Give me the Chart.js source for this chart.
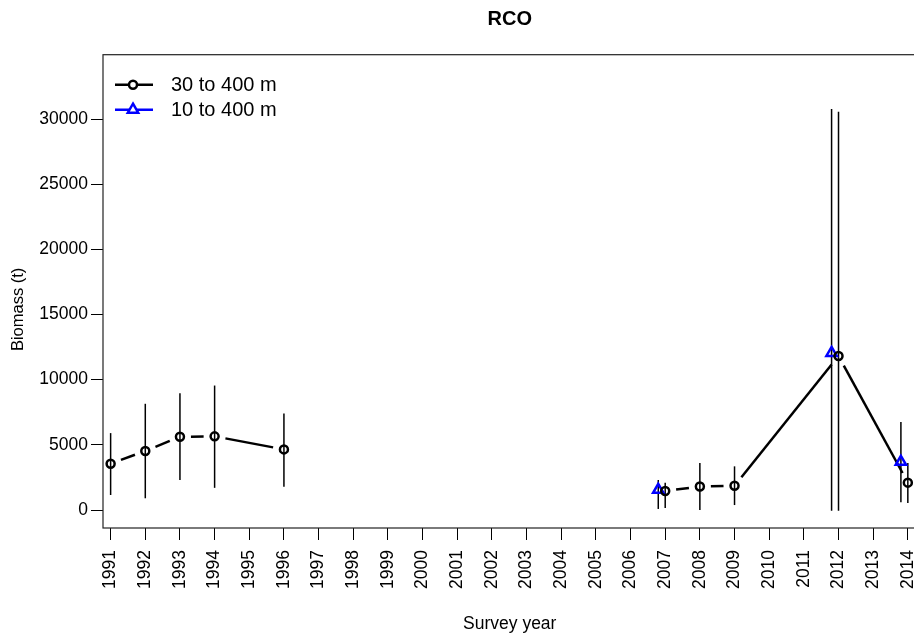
<!DOCTYPE html>
<html>
<head>
<meta charset="utf-8">
<script src="https://cdn.jsdelivr.net/npm/chart.js@4/dist/chart.umd.min.js"></script>
<style>
  html, body { margin: 0; padding: 0; background: #fff; overflow: hidden; }
  #wrap { width: 914px; height: 637px; overflow: hidden; }
  canvas { display: block; }
</style>
</head>
<body>
<div id="wrap"><canvas id="c" width="925" height="637"></canvas></div>
<script>
// ---- data ----
const years30   = [1991, 1992, 1993, 1994, 1996, 2007, 2008, 2009, 2012, 2014];
const biomass30 = [3550, 4530, 5620, 5650, 4650, 1460, 1800, 1860, 11820, 2100];
const lower30   = [1150, 900, 2300, 1700, 1780, 150, 0, 380, -50, 540];
const upper30   = [5900, 8150, 8950, 9550, 7400, 2100, 3600, 3350, 30550, 3600];

const years10   = [2007, 2012, 2014];
const biomass10 = [1550, 12050, 3700];
const lower10   = [80, -50, 600];
const upper10   = [2300, 30770, 6750];

const yearTicks = [1991, 1992, 1993, 1994, 1995, 1996, 1997, 1998, 1999, 2000, 2001, 2002,
                   2003, 2004, 2005, 2006, 2007, 2008, 2009, 2010, 2011, 2012, 2013, 2014];
const biomassTicks = [0, 5000, 10000, 15000, 20000, 25000, 30000];

const seriesNames = ['30 to 400 m', '10 to 400 m'];
const yTitle = 'Biomass (t)';
const breakAfterYear = 1996;   // the 30-400 m line is not drawn between 1996 and 2007

// ---- display settings ----
const FONT = '"Liberation Sans", Arial, Helvetica, sans-serif';
const dodge10 = -0.2;          // horizontal dodge of the 10-400 m series (years)
const BLUE = '#0000ff';

const pts30 = years30.map((yr, i) => ({ x: yr, y: biomass30[i] }));
const pts10 = years10.map((yr, i) => ({ x: yr + dodge10, y: biomass10[i] }));

const barsAndLines = {
  id: 'barsAndLines',
  beforeDatasetsDraw(chart) {
    const { ctx, scales: { x, y } } = chart;
    ctx.save();
    ctx.strokeStyle = '#000';
    ctx.lineWidth = 1.5;
    ctx.lineCap = 'butt';
    const bar = (xv, lo, hi) => {
      const px = x.getPixelForValue(xv);
      ctx.beginPath();
      ctx.moveTo(px, y.getPixelForValue(lo));
      ctx.lineTo(px, y.getPixelForValue(hi));
      ctx.stroke();
    };
    years30.forEach((yr, i) => bar(yr, lower30[i], upper30[i]));
    years10.forEach((yr, i) => bar(yr + dodge10, lower10[i], upper10[i]));

    ctx.lineWidth = 2.5;
    const gap = 11;
    for (let i = 0; i < years30.length - 1; i++) {
      if (years30[i] === breakAfterYear) continue;
      const x1 = x.getPixelForValue(years30[i]), y1 = y.getPixelForValue(biomass30[i]);
      const x2 = x.getPixelForValue(years30[i + 1]), y2 = y.getPixelForValue(biomass30[i + 1]);
      const dx = x2 - x1, dy = y2 - y1, L = Math.hypot(dx, dy);
      if (L <= 2 * gap) continue;
      const ux = dx / L, uy = dy / L;
      ctx.beginPath();
      ctx.moveTo(x1 + ux * gap, y1 + uy * gap);
      ctx.lineTo(x2 - ux * gap, y2 - uy * gap);
      ctx.stroke();
    }
    ctx.restore();
  },
  afterDraw(chart) {
    const { ctx, chartArea: a } = chart;
    ctx.save();
    // plot box
    ctx.strokeStyle = '#222';
    ctx.lineWidth = 1.2;
    ctx.strokeRect(a.left, a.top, a.right - a.left, a.bottom - a.top);

    // y axis title
    ctx.fillStyle = '#000';
    ctx.font = '16.5px ' + FONT;
    ctx.textAlign = 'center';
    ctx.textBaseline = 'middle';
    ctx.translate(18, (a.top + a.bottom) / 2 + 18);
    ctx.rotate(-Math.PI / 2);
    ctx.fillText(yTitle, 0, 0);
    ctx.setTransform(1, 0, 0, 1, 0, 0);

    // legend
    const lx0 = a.left + 12, lx1 = a.left + 50, mx = a.left + 30;
    const rows = [a.top + 30, a.top + 55];
    ctx.lineWidth = 2.5;
    ctx.strokeStyle = '#000';
    ctx.beginPath(); ctx.moveTo(lx0, rows[0]); ctx.lineTo(lx1, rows[0]); ctx.stroke();
    ctx.fillStyle = '#fff';
    ctx.beginPath(); ctx.arc(mx, rows[0], 4, 0, Math.PI * 2); ctx.fill(); ctx.stroke();
    ctx.strokeStyle = BLUE;
    ctx.beginPath(); ctx.moveTo(lx0, rows[1]); ctx.lineTo(lx1, rows[1]); ctx.stroke();
    const r = 6;
    ctx.beginPath();
    ctx.moveTo(mx, rows[1] - r);
    ctx.lineTo(mx + r * 0.866, rows[1] + r * 0.5);
    ctx.lineTo(mx - r * 0.866, rows[1] + r * 0.5);
    ctx.closePath(); ctx.fill(); ctx.stroke();

    ctx.fillStyle = '#000';
    ctx.font = '20px ' + FONT;
    ctx.textBaseline = 'middle';
    ctx.textAlign = 'left';
    ctx.fillText(seriesNames[0], a.left + 68, rows[0] + 1);
    ctx.fillText(seriesNames[1], a.left + 68, rows[1] + 1);
    ctx.restore();
  }
};

new Chart(document.getElementById('c'), {
  type: 'scatter',
  data: {
    datasets: [
      {
        label: seriesNames[0],
        data: pts30,
        showLine: false,
        pointStyle: 'circle',
        pointRadius: 4,
        pointHoverRadius: 4,
        pointBorderWidth: 2.5,
        pointBorderColor: '#000',
        pointBackgroundColor: 'rgba(0,0,0,0)'
      },
      {
        label: seriesNames[1],
        data: pts10,
        showLine: false,
        pointStyle: 'triangle',
        pointRadius: 6,
        pointHoverRadius: 6,
        pointBorderWidth: 2.5,
        pointBorderColor: BLUE,
        pointBackgroundColor: 'rgba(0,0,0,0)'
      }
    ]
  },
  options: {
    responsive: false,
    animation: false,
    devicePixelRatio: 1,
    layout: { padding: { left: 0, right: 4, top: 0, bottom: 0 } },
    plugins: {
      legend: { display: false },
      tooltip: { enabled: false },
      title: {
        display: true,
        fullSize: false,
        text: 'RCO',
        color: '#000',
        font: { family: FONT, size: 20, weight: 'bold', lineHeight: 1.2 },
        padding: { top: 7, bottom: 23.7 }
      }
    },
    scales: {
      x: {
        type: 'linear',
        min: 1990.78,
        max: 2014.25,
        afterBuildTicks: (s) => { s.ticks = yearTicks.map(v => ({ value: v })); },
        afterFit: (s) => { s.height = 109; s.paddingLeft = 0; s.paddingRight = 0; },
        border: { display: false },
        grid: { display: true, drawOnChartArea: false, drawTicks: true, tickLength: 12, color: '#000', lineWidth: 1 },
        ticks: {
          autoSkip: false,
          minRotation: 90,
          maxRotation: 90,
          padding: 10,
          color: '#000',
          font: { family: FONT, size: 17.5 },
          callback: (v) => String(v)
        },
        title: {
          display: true,
          text: 'Survey year',
          color: '#000',
          font: { family: FONT, size: 17.5, lineHeight: 1.2 },
          padding: { top: 0, bottom: 2.5 }
        }
      },
      y: {
        type: 'linear',
        min: -1381,
        max: 34934,
        afterBuildTicks: (s) => { s.ticks = biomassTicks.map(v => ({ value: v })); },
        afterFit: (s) => { s.width = 103; s.paddingTop = 0; s.paddingBottom = 0; },
        border: { display: false },
        grid: { display: true, drawOnChartArea: false, drawTicks: true, tickLength: 12, color: '#000', lineWidth: 1 },
        ticks: {
          padding: 3,
          color: '#000',
          font: { family: FONT, size: 17.5 },
          callback: (v) => String(v)
        },
        title: { display: false }
      }
    }
  },
  plugins: [barsAndLines]
});
</script>
</body>
</html>
